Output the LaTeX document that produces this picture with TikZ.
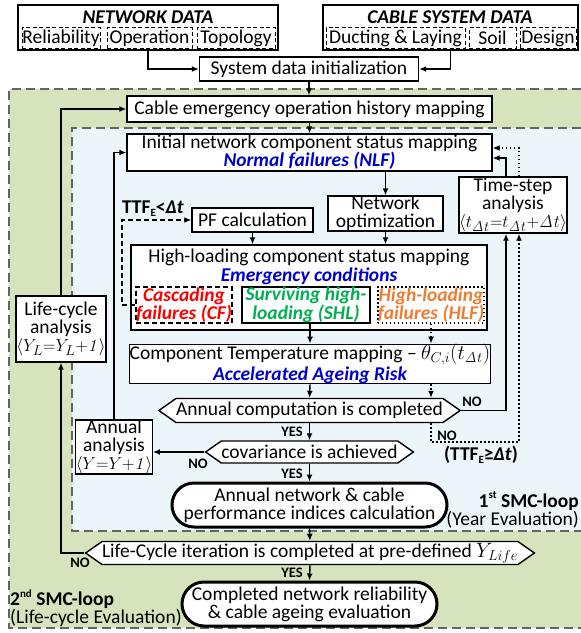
\documentclass[tikz,border=0pt]{standalone}
\usepackage[no-math]{fontspec}
\setmainfont{Carlito}
\usetikzlibrary{arrows.meta,shapes.symbols,shapes.misc,calc}
\definecolor{greenbg}{RGB}{215,227,189}
\definecolor{bluebg}{RGB}{236,245,249}
\definecolor{tblue}{RGB}{0,0,204}
\definecolor{tgreen}{RGB}{0,176,80}
\definecolor{torange}{RGB}{237,125,49}
\definecolor{tred}{RGB}{255,0,0}
\definecolor{regionline}{RGB}{100,100,100}
\newcommand\fmain{\fontsize{19.5}{18}\selectfont}
\newcommand\fsub{\fontsize{19.5}{17}\selectfont}
\newcommand\fsmall{\fontsize{14.5}{14}\selectfont}
\newcommand\fmath{\fontsize{19}{18}\selectfont}
\newcommand\subE{\raisebox{-0.3ex}{\fontsize{11}{11}\selectfont E}}
\newcommand\dt{\mathit{\Delta t}}
\begin{document}
\begin{tikzpicture}[x=1pt,y=-1pt,
  box/.style={draw, line width=1.4pt, fill=white, inner sep=0pt, align=center, font=\fmain},
  databox/.style={draw, line width=2pt, fill=white, inner sep=0pt},
  subbox/.style={draw, dash pattern=on 4pt off 2.5pt, line width=0.9pt, inner sep=0pt, font=\fmain},
  decision/.style={draw, line width=1.4pt, fill=white, shape=signal, signal to=west and east, signal pointer angle=70, inner sep=0pt, font=\fmain},
  stadium/.style={draw, line width=3pt, fill=white, shape=rounded rectangle, inner sep=0pt, align=center, font=\fmain},
  arr/.style={line width=1.4pt, -{Latex[length=7pt,width=6pt]}},
  dasharr/.style={line width=1.4pt, dash pattern=on 5pt off 3pt, -{Latex[length=7pt,width=6pt]}},
  dotarr/.style={line width=1.4pt, dash pattern=on 1.4pt off 2.6pt, -{Latex[length=7pt,width=6pt]}},
  lbl/.style={font=\fsmall\bfseries, inner sep=0pt},
  region/.style={draw=regionline, line width=1.3pt, dash pattern=on 9pt off 5pt}
]
\useasboundingbox (0,0) rectangle (581,633);

% regions
\fill[greenbg] (9,89) rectangle (581,628);
\draw[region] (581,89) -- (9,89) -- (9,628) -- (581,628);
\fill[bluebg] (72,128) rectangle (581,531);
\draw[region] (581,128) -- (72,128) -- (72,531) -- (581,531);

% data boxes
\node[databox, minimum width=260pt, minimum height=45pt] (netdata) at (148,27.5) {};
\node[font=\fmain\bfseries\itshape, inner sep=0pt] (netttl) at (148,17) {NETWORK DATA};
\node[subbox, minimum width=78pt, minimum height=21pt] (rel) at (61,38) {Reliability};
\node[subbox, minimum width=85pt, minimum height=21pt] (oper) at (149.5,38) {Operation};
\node[subbox, minimum width=78pt, minimum height=21pt] (topo) at (236,38) {Topology};

\node[databox, minimum width=255pt, minimum height=45pt] (cabledata) at (450.5,27.5) {};
\node[font=\fmain\bfseries\itshape, inner sep=0pt] (cabttl) at (450,17) {CABLE SYSTEM DATA};
\node[subbox, minimum width=139pt, minimum height=21pt] (duct) at (395.5,38) {Ducting \& Laying};
\node[subbox, minimum width=47pt, minimum height=21pt] (soil) at (492.5,38) {Soil};
\node[subbox, minimum width=56pt, minimum height=21pt] (design) at (548,38) {Design};

% main boxes
\node[box, minimum width=219pt, minimum height=24pt] (sysinit) at (309,69) {System data initialization};
\node[box, minimum width=365pt, minimum height=26pt] (cable) at (309.5,109) {Cable emergency operation history mapping};
\node[box, minimum width=365pt, minimum height=37pt] (initial) at (309.5,152.5) {Initial network component status mapping\\{\bfseries\itshape\color{tblue}Normal failures (NLF)}};
\node[box, minimum width=121pt, minimum height=24pt] (pf) at (252.5,220) {PF calculation};
\node[box, minimum width=115pt, minimum height=35pt] (netopt) at (385.5,213.5) {Network\\optimization};
\node[box, minimum width=94pt, minimum height=56pt] (timestep) at (513,205) {Time-step\\analysis\\{\fmath$\langle t_{\dt}{=}t_{\dt}{+}\dt\rangle$}};

\node[box, minimum width=356pt, minimum height=85pt] (hl) at (309,287.5) {};
\node[font=\fmain, inner sep=0pt] (hlttl) at (309,257) {High-loading component status mapping};
\node[font=\fmain\bfseries\itshape, text=tblue, inner sep=0pt] (hlsub) at (309,276) {Emergency conditions};
\node[draw, line width=1.8pt, dash pattern=on 5pt off 3pt, minimum width=92pt, minimum height=36pt, inner sep=0pt, align=center, font=\fsub\bfseries\itshape, text=tred] (cf) at (184,305) {Cascading\\failures (CF)};
\node[draw, line width=1.2pt, minimum width=128pt, minimum height=36pt, inner sep=0pt, align=center, font=\fsub\bfseries\itshape, text=tgreen] (shl) at (306,305) {Surviving high-\\loading (SHL)};
\node[draw, line width=1.5pt, dash pattern=on 1.5pt off 2.5pt, minimum width=105pt, minimum height=36pt, inner sep=0pt, align=center, font=\fsub\bfseries\itshape, text=torange] (hlf) at (431,305) {High-loading\\failures (HLF)};

\node[box, minimum width=356pt, minimum height=38pt] (temp) at (310,364) {Component Temperature mapping -- {\fontsize{21}{18}\selectfont$\theta_{C,i}(t_{\dt})$}\\{\bfseries\itshape\color{tblue}Accelerated Ageing Risk}};

\node[decision, minimum width=301pt, minimum height=24pt] (annualcomp) at (309.5,410.5) {Annual computation is completed};
\node[decision, minimum width=207pt, minimum height=22pt] (covar) at (309.5,452) {covariance is achieved};
\node[stadium, minimum width=275pt, minimum height=44pt] (annualnet) at (309.5,505) {Annual network \& cable\\performance indices calculation};
\node[decision, minimum width=440pt, minimum height=23pt] (lifedec) at (310,553) {Life-Cycle iteration is completed at pre-defined {\fontsize{21}{18}\selectfont$Y_{Life}$}};
\node[stadium, minimum width=255pt, minimum height=44pt] (final) at (309.5,604) {Completed network reliability\\\& cable ageing evaluation};

\node[box, minimum width=90pt, minimum height=66pt] (lifecyc) at (61,329) {Life-cycle\\analysis\\{\fmath$\langle Y_L{=}Y_L{+}\mathit{1}\rangle$}};
\node[box, minimum width=76pt, minimum height=54pt] (annual) at (114,447) {Annual\\analysis\\{\fmath$\langle Y{=}Y{+}\mathit{1}\rangle$}};

% labels
\node[font=\fmain\bfseries, inner sep=0pt] (ttfl) at (153,209) {TTF\subE\textless\textit{Δt}};
\node[font=\fmain\bfseries, inner sep=0pt] (ttfg) at (481,455) {(TTF\subE ≥\textit{Δt})};
\node[lbl] (no1) at (472,402) {NO};
\node[lbl] (no2) at (447,436) {NO};
\node[lbl] (yes1) at (292,432) {YES};
\node[lbl] (no3) at (198,464) {NO};
\node[lbl] (yes2) at (292,474) {YES};
\node[lbl] (no4) at (80,563) {NO};
\node[lbl] (yes3) at (292,573) {YES};
\node[font=\fmain\bfseries, anchor=east, inner sep=0pt] (smc1) at (579,501) {1\raisebox{0.9ex}{\fontsize{11}{11}\selectfont st} SMC-loop};
\node[font=\fmain, anchor=east, inner sep=0pt] (smc1b) at (579,520) {(Year Evaluation)};
\node[font=\fmain\bfseries, anchor=west, inner sep=0pt] (smc2) at (10,599) {2\raisebox{0.9ex}{\fontsize{11}{11}\selectfont nd} SMC-loop};
\node[font=\fmain, anchor=west, inner sep=0pt] (smc2b) at (10,618) {(Life-cycle Evaluation)};

% helper coordinates
\coordinate (dotx) at (431,0);
\coordinate (tsx) at (506,0);
\coordinate (tsdx) at (519,0);
\coordinate (dotlow) at (0,442);

% connectors
\draw[arr] (netdata.south) |- (sysinit.west);
\draw[arr] (cabledata.south) |- (sysinit.east);
\draw[arr] (sysinit.south) -- (sysinit.south |- cable.north);
\draw[arr] (cable.south) -- (initial.north);
\draw[arr] (lifecyc.north) |- (cable.west);
\draw[arr] (annual.north) |- (initial.west);
\draw[arr] (initial.south -| netopt.north) -- (netopt.north);
\draw[arr] (pf.south) -- (pf.south |- hl.north);
\draw[arr] (netopt.south) -- (netopt.south |- hl.north);
\draw[dasharr] (cf.west) -- ++(-13,0) |- (pf.west);
\draw[arr] (shl.south -| temp.north) -- (temp.north);
\draw[dotarr] (hlf.south -| dotx) -- (dotx |- temp.north);
\draw[arr] (temp.south) -- (annualcomp.north);
\draw[dotarr] (temp.south -| dotx) -- (dotx |- annualcomp.north);
\draw[arr] (annualcomp.east) -| (tsx |- timestep.south);
\draw[dotarr] (dotx |- annualcomp.south) -- (dotx |- dotlow) -| (tsdx |- timestep.south);
\draw[arr] (tsx |- timestep.north) |- ($(initial.east)+(0,5.5)$);
\draw[dotarr] (tsdx |- timestep.north) |- ($(initial.east)+(0,-4.5)$);
\draw[arr] (annualcomp.south) -- (covar.north);
\draw[arr] (covar.west) -- (covar.west -| annual.east);
\draw[arr] (covar.south) -- (annualnet.north);
\draw[arr] (annualnet.south) -- (lifedec.north);
\draw[arr] (lifedec.west) -| (lifecyc.south);
\draw[arr] (lifedec.south) -- (final.north);
\end{tikzpicture}
\end{document}
